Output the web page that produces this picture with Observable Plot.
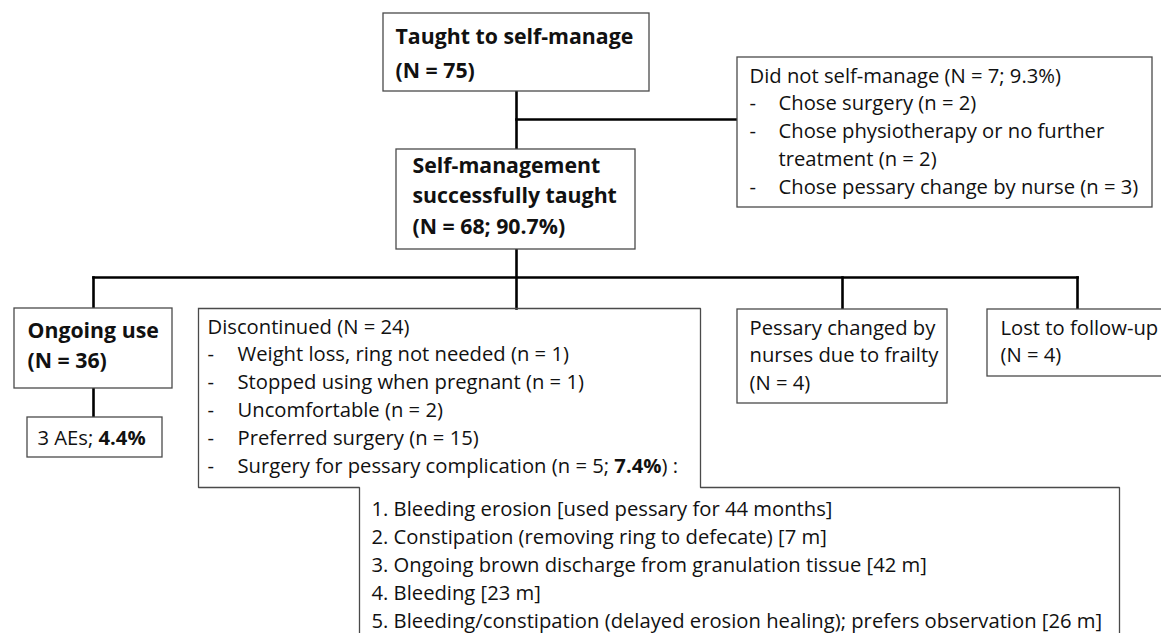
<!DOCTYPE html>
<html><head><meta charset="utf-8">
<script src="https://cdn.jsdelivr.net/npm/d3@7"></script>
<script src="https://cdn.jsdelivr.net/npm/@observablehq/plot@0.6"></script>
<style>html,body{margin:0;padding:0;background:#fff;overflow:hidden}</style>
</head><body><div id="chart"></div>
<script>
// ---------- DATA ----------
const taughtN = 75;
const successN = 68, successPct = 90.7;
const didNotN = 7, didNotPct = 9.3;
const didNotReasons = ["Chose surgery", "Chose physiotherapy or no further\ntreatment", "Chose pessary change by nurse"];
const didNotCounts = [2, 2, 3];
const ongoingN = 36;
const aeCount = 3, aePct = 4.4;
const discontinuedN = 24;
const discReasons = ["Weight loss, ring not needed", "Stopped using when pregnant", "Uncomfortable", "Preferred surgery", "Surgery for pessary complication"];
const discCounts = [1, 1, 2, 15, 5];
const complicationPct = 7.4;
const complications = ["Bleeding erosion", "Constipation (removing ring to defecate)", "Ongoing brown discharge from granulation tissue", "Bleeding", "Bleeding/constipation (delayed erosion healing); prefers observation"];
const complicationMonths = ["used pessary for 44 months", "7 m", "42 m", "23 m", "26 m"];
const nursesN = 4;
const lostN = 4;

// ---------- LAYOUT ----------
const W = 1161, H = 633;
const FONT = "Open Sans";
const ctx = document.createElement("canvas").getContext("2d");
function tw(s, size, weight) { ctx.font = `${weight} ${size}px "${FONT}"`; return ctx.measureText(s).width; }
// fit font sizes to the reference's text widths
const REG = 19 * 360 / tw("Chose pessary change by nurse (n = 3)", 19, "normal");
const BIG = 22 * 238 / tw("Taught to self-manage", 22, "bold");
const LH = 27.8;
const L = {
  taught: {x1: 383, x2: 649, y1: 13, y2: 91, tx: 395, ty: 43, lh: 34},
  success: {x1: 396, x2: 635, y1: 149, y2: 249, tx: 412, ty: 172, lh: 30.5},
  didNot: {x1: 737, x2: 1152, y1: 57, y2: 207, tx: 749, bx: 778, ty: 82},
  ongoing: {x1: 14, x2: 172, y1: 308, y2: 388, tx: 27, ty: 337, lh: 30},
  aes: {x1: 27, x2: 162, y1: 417, y2: 457, tx: 37, ty: 444},
  disc: {x1: 198, x2: 700, y1: 308, y2: 487, lx1: 359, lx2: 1119, ly2: 645, tx: 207, bx: 237, ty: 333},
  comp: {tx: 371, ty: 515, lh: 28},
  nurses: {x1: 737, x2: 947, y1: 309, y2: 403, tx: 749, ty: 334},
  lost: {x1: 987, x2: 1180, y1: 309, y2: 376, tx: 1000, ty: 334}
};
const hubX = 516, splitY = 277;
const dropX = [93, 516, 842, 1077];

const texts = [];
function add(x, y, text, w = "normal", s = REG) { texts.push({x, y, text, w, s}); }
function addRich(x, y, parts, s = REG) {
  let cx = x;
  for (const [t, w] of parts) { add(cx, y, t, w, s); cx += tw(t, s, w); }
}

add(L.taught.tx, L.taught.ty, "Taught to self-manage", "bold", BIG);
add(L.taught.tx, L.taught.ty + L.taught.lh, `(N = ${taughtN})`, "bold", BIG);
["Self-management", "successfully taught", `(N = ${successN}; ${successPct}%)`].forEach((t, i) =>
  add(L.success.tx, L.success.ty + i * L.success.lh, t, "bold", BIG));
add(L.didNot.tx, L.didNot.ty, `Did not self-manage (N = ${didNotN}; ${didNotPct}%)`);
{
  let row = 1;
  didNotReasons.forEach((r, i) => {
    const lines = (r + ` (n = ${didNotCounts[i]})`).split("\n");
    add(L.didNot.tx, L.didNot.ty + row * LH, "-");
    lines.forEach(ln => { add(L.didNot.bx, L.didNot.ty + row * LH, ln); row++; });
  });
}
add(L.ongoing.tx, L.ongoing.ty, "Ongoing use", "bold", BIG);
add(L.ongoing.tx, L.ongoing.ty + L.ongoing.lh, `(N = ${ongoingN})`, "bold", BIG);
addRich(L.aes.tx, L.aes.ty, [[`${aeCount} AEs; `, "normal"], [`${aePct}%`, "bold"]]);
add(L.disc.tx, L.disc.ty, `Discontinued (N = ${discontinuedN})`);
discReasons.forEach((r, i) => {
  const y = L.disc.ty + (i + 1) * LH;
  add(L.disc.tx, y, "-");
  if (i === discReasons.length - 1) {
    addRich(L.disc.bx, y, [[`${r} (n = ${discCounts[i]}; `, "normal"], [`${complicationPct}%`, "bold"], [") :", "normal"]]);
  } else add(L.disc.bx, y, `${r} (n = ${discCounts[i]})`);
});
complications.forEach((c, i) => add(L.comp.tx, L.comp.ty + i * L.comp.lh, `${i + 1}. ${c} [${complicationMonths[i]}]`));
["Pessary changed by", "nurses due to frailty", `(N = ${nursesN})`].forEach((t, i) => add(L.nurses.tx, L.nurses.ty + i * LH, t));
["Lost to follow-up", `(N = ${lostN})`].forEach((t, i) => add(L.lost.tx, L.lost.ty + i * LH, t));

const boxes = ["taught", "success", "didNot", "ongoing", "aes", "nurses", "lost"].map(k => L[k]);
const d = L.disc;
const discOutline = [[d.x1, d.y1], [d.x2, d.y1], [d.x2, d.y2], [d.lx2, d.y2], [d.lx2, d.ly2], [d.lx1, d.ly2], [d.lx1, d.y2], [d.x1, d.y2], [d.x1, d.y1]].map(([x, y]) => ({x, y}));

const links = [
  {x1: hubX, y1: L.taught.y2, x2: hubX, y2: L.success.y1},
  {x1: hubX, y1: 119, x2: L.didNot.x1, y2: 119},
  {x1: hubX, y1: L.success.y2, x2: hubX, y2: d.y1},
  {x1: dropX[0], y1: splitY, x2: dropX[3], y2: splitY},
  {x1: dropX[0], y1: splitY, x2: dropX[0], y2: L.ongoing.y1},
  {x1: dropX[2], y1: splitY, x2: dropX[2], y2: L.nurses.y1},
  {x1: dropX[3], y1: splitY, x2: dropX[3], y2: L.lost.y1},
  {x1: dropX[0], y1: L.ongoing.y2, x2: dropX[0], y2: L.aes.y1}
];

const BOX = "#4a4a4a";
const textOpts = (size, weight) => ({x: "x", y: "y", text: "text", fontSize: size, fontWeight: weight, textAnchor: "start", lineAnchor: "bottom", fill: "#111", fontFamily: FONT});
const chart = Plot.plot({
  width: W, height: H, margin: 0,
  x: {domain: [0, W], range: [0, W], axis: null},
  y: {domain: [0, H], range: [0, H], axis: null},
  style: {background: "white", fontFamily: FONT},
  marks: [
    Plot.link(links, {x1: "x1", y1: "y1", x2: "x2", y2: "y2", stroke: "black", strokeWidth: 2.6, strokeLinecap: "square"}),
    Plot.rect(boxes, {x1: "x1", x2: "x2", y1: "y1", y2: "y2", fill: "white", stroke: BOX, strokeWidth: 1.3}),
    Plot.line(discOutline, {x: "x", y: "y", stroke: BOX, strokeWidth: 1.3, strokeLinejoin: "miter", strokeLinecap: "square"}),
    Plot.text(texts.filter(t => t.w === "normal"), textOpts(REG, "normal")),
    Plot.text(texts.filter(t => t.w === "bold" && t.s === REG), textOpts(REG, "bold")),
    Plot.text(texts.filter(t => t.w === "bold" && t.s === BIG), textOpts(BIG, "bold"))
  ]
});
document.getElementById("chart").appendChild(chart);
</script>
</body></html>
